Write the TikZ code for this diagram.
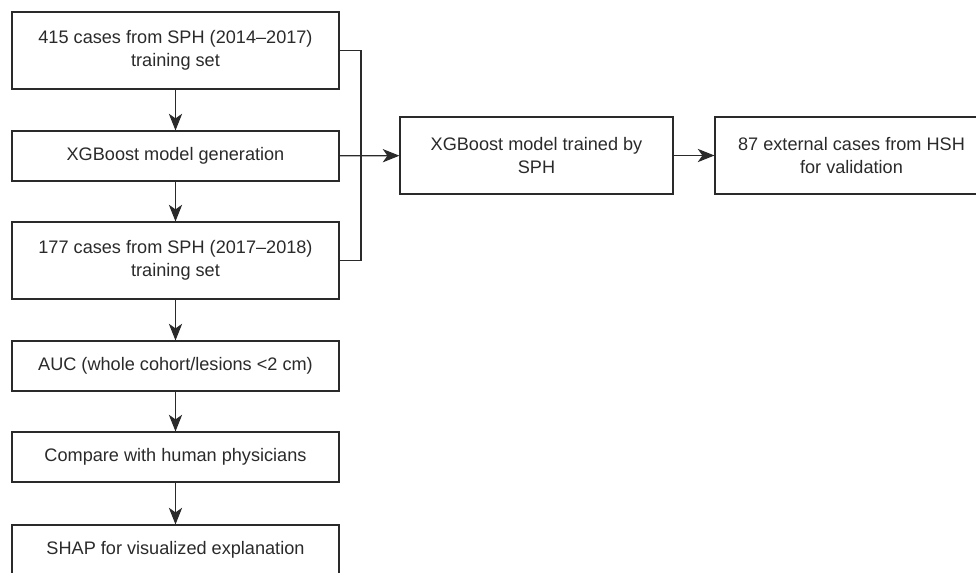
\documentclass[tikz,border=0pt]{standalone}
\usepackage{fontspec}
\setmainfont{Liberation Sans}
\usetikzlibrary{arrows.meta}
\definecolor{linegray}{HTML}{2A2A2A}
\tikzset{
  flowbox/.style={draw=linegray, line width=0.9pt, text=linegray, align=center,
    inner sep=0pt, font=\fontsize{13.6}{17.6}\selectfont},
  leftbox/.style={flowbox, minimum width=245.25pt},
  tallbox/.style={minimum height=57.75pt},
  flatbox/.style={minimum height=37.5pt},
  flowarrow/.style={draw=linegray, line width=0.9pt, -{Stealth[length=12.5pt, width=10pt, inset=3.5pt]}}
}
\begin{document}
\begin{tikzpicture}[x=0.75pt, y=-0.75pt]
            \useasboundingbox (0,0) rectangle (976,573);
            % left column
            \node[leftbox, tallbox] (train1) at (175.5,50.5) {415 cases from SPH (2014--2017)\\training set};
            \node[leftbox, flatbox] (xgbgen) at (175.5,156) {XGBoost model generation};
            \node[leftbox, tallbox] (train2) at (175.5,260.5) {177 cases from SPH (2017--2018)\\training set};
            \node[leftbox, flatbox] (auc) at (175.5,366) {AUC (whole cohort/lesions <2 cm)};
            \node[leftbox, flatbox] (compare) at (175.5,457) {Compare with human physicians};
            \node[leftbox, flatbox] (shap) at (175.5,550) {SHAP for visualized explanation};
            % right row
            \node[flowbox, tallbox, minimum width=204.75pt] (xgbsph) at (536.5,155.5) {XGBoost model trained by\\SPH};
            \node[flowbox, tallbox, minimum width=204.75pt] (external) at (851.5,155.5) {87 external cases from HSH\\for validation};
            \coordinate (brk) at (361,0);
            \draw[flowarrow] (train1) -- (xgbgen);
            \draw[flowarrow] (xgbgen) -- (train2);
            \draw[flowarrow] (train2) -- (auc);
            \draw[flowarrow] (auc) -- (compare);
            \draw[flowarrow] (compare) -- (shap);
            \draw[draw=linegray, line width=0.9pt] (train1.east) -- (train1.east -| brk) -- (train2.east -| brk) -- (train2.east);
            \draw[flowarrow] (xgbgen) -- (xgbsph);
            \draw[flowarrow] (xgbsph) -- (external);
        \end{tikzpicture}
\end{document}
